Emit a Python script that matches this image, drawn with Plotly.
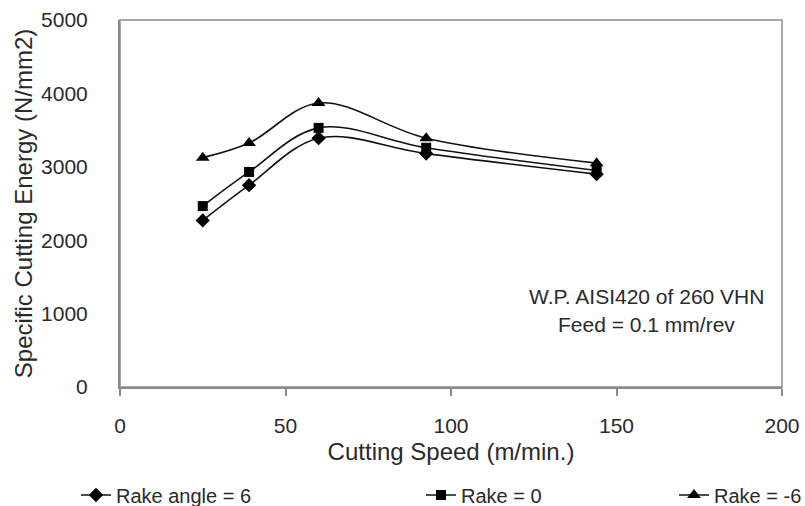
import plotly.graph_objects as go

speed = [25, 39, 60, 92.5, 144]
rake_pos6 = [2270, 2750, 3390, 3180, 2900]
rake_0 = [2465, 2930, 3530, 3260, 2950]
rake_neg6 = [3125, 3325, 3870, 3390, 3050]

names = ["Rake angle = 6", "Rake = 0", "Rake = -6"]
symbols = ["diamond", "square", "triangle-up"]
sizes = [11, 10, 12]
legends = ["legend", "legend2", "legend3"]

x_ticks = [0, 50, 100, 150, 200]
y_ticks = [0, 1000, 2000, 3000, 4000, 5000]

FONT = "Liberation Sans, Arial, sans-serif"
TXT = "#2a2a2a"
AX = "#8a8a8a"

fig = go.Figure()
for ys, nm, sym, sz, lg in zip([rake_pos6, rake_0, rake_neg6], names, symbols, sizes, legends):
    fig.add_trace(go.Scatter(
        x=speed, y=ys, name=nm, mode="lines+markers",
        line=dict(color="#111111", width=1.6, shape="spline", smoothing=1.0),
        marker=dict(symbol=sym, size=sz, color="#000000"),
        legend=lg,
    ))

legend_common = dict(orientation="h", xref="container", yref="container",
                     xanchor="left", yanchor="middle", bgcolor="rgba(0,0,0,0)",
                     font=dict(family=FONT, size=20, color=TXT))
fig.update_layout(
    width=805, height=506,
    margin=dict(l=120, r=23, t=20, b=119, autoexpand=False),
    paper_bgcolor="white", plot_bgcolor="white",
    font=dict(family=FONT, size=20, color=TXT),
    legend=dict(x=76 / 805, y=1 - 495 / 506, **legend_common),
    legend2=dict(x=421 / 805, y=1 - 495 / 506, **legend_common),
    legend3=dict(x=674 / 805, y=1 - 495 / 506, **legend_common),
    xaxis=dict(range=[0, 200], tickvals=x_ticks, showgrid=False, zeroline=False,
               automargin=False,
               showline=True, linecolor=AX, linewidth=2, ticks="outside",
               ticklen=7, tickcolor=AX, tickwidth=2, ticklabelstandoff=12,
               tickfont=dict(size=21, color=TXT),
               title=dict(text="Cutting Speed (m/min.)", font=dict(size=24, color=TXT), standoff=7)),
    yaxis=dict(range=[0, 5000], tickvals=y_ticks, showgrid=False, zeroline=False,
               automargin=False,
               showline=True, linecolor=AX, linewidth=2, ticks="",
               ticklabelstandoff=26,
               tickfont=dict(size=21, color=TXT),
               title=dict(text="Specific Cutting Energy (N/mm2)", font=dict(size=24, color=TXT), standoff=2)),
    showlegend=True,
)
fig.add_shape(type="rect", xref="x domain", yref="y domain", x0=0, x1=1, y0=0, y1=1,
              line=dict(color="#a8a8a8", width=2), layer="below")
fig.add_annotation(x=159, y=1230, text="W.P. AISI420 of 260 VHN", showarrow=False,
                   font=dict(size=21, color=TXT), xanchor="center", yanchor="middle")
fig.add_annotation(x=159, y=850, text="Feed = 0.1 mm/rev", showarrow=False,
                   font=dict(size=21, color=TXT), xanchor="center", yanchor="middle")

fig.write_html("out.html")
